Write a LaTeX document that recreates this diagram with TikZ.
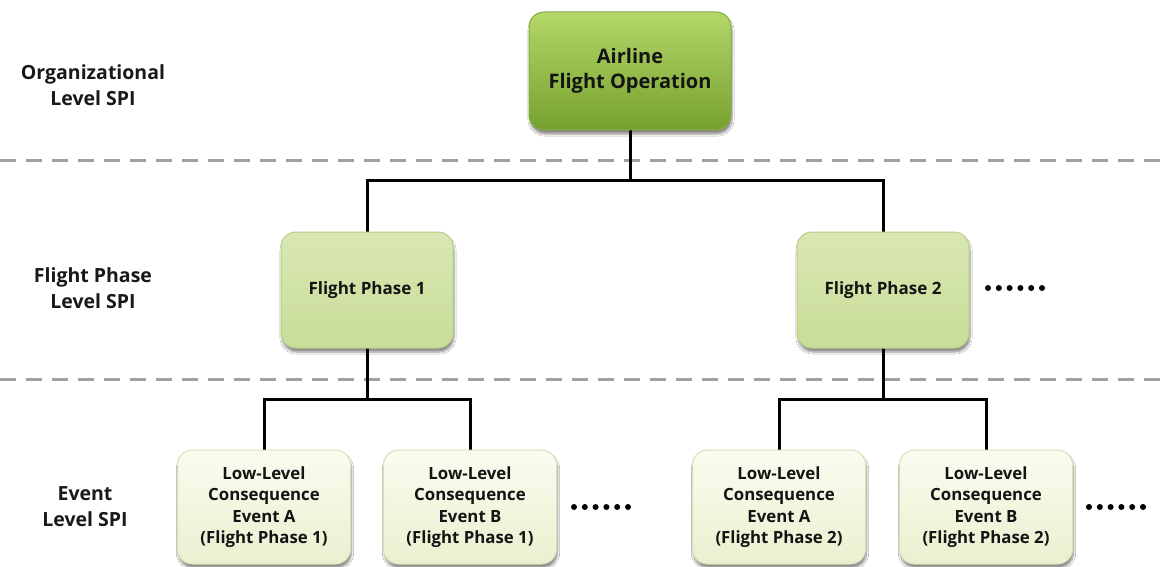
\documentclass[tikz,border=0pt]{standalone}
\usepackage{fontspec}
\setmainfont{Open Sans}
\usetikzlibrary{shadows.blur}
\definecolor{orgtop}{HTML}{B4D76A}
\definecolor{orgbot}{HTML}{76A12E}
\definecolor{orgline}{HTML}{86AA45}
\definecolor{phtop}{HTML}{D9E8B3}
\definecolor{phbot}{HTML}{C9DC98}
\definecolor{phline}{HTML}{B9CE88}
\definecolor{evtop}{HTML}{FAFCF0}
\definecolor{evbot}{HTML}{E9F1CF}
\definecolor{evline}{HTML}{D6E2B4}
\definecolor{sep}{HTML}{A0A0A0}
\tikzset{
  box/.style={rounded corners=15pt, align=center, inner sep=0pt, text=black!92,
    blur shadow={shadow xshift=1pt, shadow yshift=-4pt, shadow blur steps=6, shadow opacity=45}},
  orgbox/.style={box, minimum width=202pt, minimum height=118pt, draw=orgline, line width=1pt,
    top color=orgtop, bottom color=orgbot, font=\bfseries\fontsize{20}{25}\selectfont},
  phasebox/.style={box, minimum width=172pt, minimum height=116pt, draw=phline, line width=1pt,
    top color=phtop, bottom color=phbot, font=\bfseries\fontsize{17}{20}\selectfont},
  eventbox/.style={box, minimum width=173pt, minimum height=114pt, draw=evline, line width=1pt,
    top color=evtop, bottom color=evbot, font=\bfseries\fontsize{16.8}{21.5}\selectfont},
  levellabel/.style={align=center, font=\bfseries\fontsize{19.5}{26}\selectfont, text=black!90},
  dot/.style={fill=black, circle, inner sep=0pt, minimum size=6pt},
  link/.style={line width=3pt, black},
  separator/.style={line width=3pt, sep, dash pattern=on 16pt off 10pt}
}
\begin{document}
\begin{tikzpicture}[x=1pt, y=-1pt]
\useasboundingbox (0,0) rectangle (1169,567);
\fill[white] (0,0) rectangle (1169,567);

% level separators
\coordinate (s1a) at (0,160); \coordinate (s1b) at (1169,160);
\coordinate (s2a) at (0,379); \coordinate (s2b) at (1169,379);
\draw[separator] (s1a) -- (s1b);
\draw[separator] (s2a) -- (s2b);

% level labels
\node[levellabel] (lorg) at (93,85) {Organizational\\Level SPI};
\node[levellabel] (lphase) at (93,288) {Flight Phase\\Level SPI};
\node[levellabel] (levent) at (85,507) {Event\\Level SPI};

% junction points of the tree
\coordinate (j0) at (630,180);
\coordinate (j1) at (367,399);
\coordinate (j2) at (883,399);

% connectors first, boxes on top
\coordinate (o) at (630,71);
\coordinate (p1c) at (367,290);
\coordinate (p2c) at (883,290);
\coordinate (e1c) at (264,507);
\coordinate (e2c) at (470,507);
\coordinate (e3c) at (779,507);
\coordinate (e4c) at (986,507);
\draw[link] (o) -- (j0);
\draw[link] (p1c) |- (j0) -| (p2c);
\draw[link] (p1c) -- (j1);
\draw[link] (e1c) |- (j1) -| (e2c);
\draw[link] (p2c) -- (j2);
\draw[link] (e3c) |- (j2) -| (e4c);

% boxes
\node[orgbox] (org) at (o) {Airline\\Flight Operation};
\node[phasebox] (p1) at (p1c) {Flight Phase 1};
\node[phasebox] (p2) at (p2c) {Flight Phase 2};
\node[eventbox] (e1) at (e1c) {Low-Level\\Consequence\\Event A\\(Flight Phase 1)};
\node[eventbox] (e2) at (e2c) {Low-Level\\Consequence\\Event B\\(Flight Phase 1)};
\node[eventbox] (e3) at (e3c) {Low-Level\\Consequence\\Event A\\(Flight Phase 2)};
\node[eventbox] (e4) at (e4c) {Low-Level\\Consequence\\Event B\\(Flight Phase 2)};

% continuation marks (six dots each)
\foreach \i in {0,...,5} {
  \node[dot] at (988+10.8*\i,288) {};
  \node[dot] at (574+10.8*\i,507) {};
  \node[dot] at (1089+10.8*\i,507) {};
}
\end{tikzpicture}
\end{document}
